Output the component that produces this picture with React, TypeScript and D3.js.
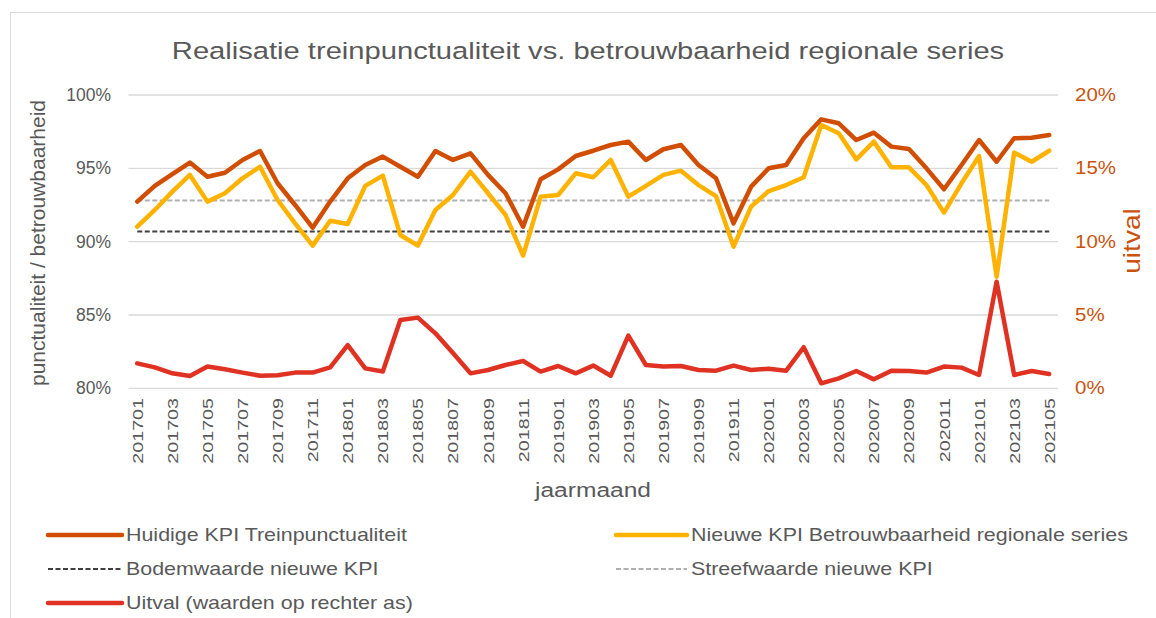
import React from "react";
import * as d3 from "d3";

const months: string[] = [
  "201701","201702","201703","201704","201705","201706","201707","201708","201709","201710","201711","201712",
  "201801","201802","201803","201804","201805","201806","201807","201808","201809","201810","201811","201812",
  "201901","201902","201903","201904","201905","201906","201907","201908","201909","201910","201911","201912",
  "202001","202002","202003","202004","202005","202006","202007","202008","202009","202010","202011","202012",
  "202101","202102","202103","202104","202105",
];

const huidigeKPI: number[] = [
  92.73, 93.80, 94.61, 95.39, 94.43, 94.70, 95.57, 96.18, 93.98, 92.50, 90.95, 92.73,
  94.32, 95.23, 95.80, 95.11, 94.43, 96.18, 95.57, 96.02, 94.55, 93.30, 91.02, 94.25,
  94.93, 95.84, 96.20, 96.59, 96.82, 95.57, 96.30, 96.59, 95.23, 94.32, 91.25, 93.75,
  95.00, 95.23, 97.05, 98.34, 98.07, 96.93, 97.43, 96.48, 96.32, 95.00, 93.57, 95.23,
  96.93, 95.45, 97.05, 97.09, 97.27,
];

const nieuweKPI: number[] = [
  91.02, 92.16, 93.41, 94.55, 92.73, 93.30, 94.32, 95.11, 92.84, 91.25, 89.73, 91.43,
  91.20, 93.80, 94.50, 90.45, 89.73, 92.16, 93.18, 94.77, 93.30, 91.82, 89.05, 93.07,
  93.18, 94.66, 94.39, 95.57, 93.07, 93.80, 94.55, 94.84, 93.86, 93.11, 89.66, 92.39,
  93.45, 93.86, 94.39, 97.95, 97.39, 95.61, 96.82, 95.07, 95.07, 93.86, 91.98, 93.98,
  95.84, 87.61, 96.07, 95.45, 96.20,
];

const uitval: number[] = [
  1.70, 1.43, 1.02, 0.84, 1.48, 1.30, 1.07, 0.86, 0.89, 1.07, 1.07, 1.43,
  2.95, 1.36, 1.14, 4.66, 4.82, 3.75, 2.40, 1.02, 1.25, 1.59, 1.86, 1.14,
  1.52, 1.02, 1.55, 0.86, 3.59, 1.59, 1.48, 1.52, 1.25, 1.20, 1.55, 1.25,
  1.34, 1.20, 2.80, 0.34, 0.68, 1.18, 0.61, 1.20, 1.18, 1.07, 1.48, 1.41,
  0.91, 7.27, 0.91, 1.18, 0.98,
];

const bodemwaarde = 90.7;
const streefwaarde = 92.8;

const leftTicks: number[] = [80, 85, 90, 95, 100];
const rightTicks: number[] = [0, 5, 10, 15, 20];

const title = "Realisatie treinpunctualiteit vs. betrouwbaarheid regionale series";
const xTitle = "jaarmaand";
const yLeftTitle = "punctualiteit / betrouwbaarheid";
const yRightTitle = "uitval";

const C_HUIDIG = "#D14D02";
const C_NIEUW = "#FFB300";
const C_UITVAL = "#E03222";
const C_BODEM = "#404040";
const C_STREEF = "#B0B0B0";
const C_TEXT = "#595959";
const C_RIGHT = "#C9530D";
const C_GRID = "#D9D9D9";
const FONT = "'Liberation Sans', Arial, sans-serif";

export default function App() {
  const W = 1156, H = 618;
  const x0 = 128.5, x1 = 1058;
  const yTop = 95, yBot = 388.3;

  const x = d3.scaleBand<string>().domain(months).range([x0, x1]).paddingInner(0).paddingOuter(0);
  const cx = (m: string) => (x(m) as number) + x.bandwidth() / 2;
  const yL = d3.scaleLinear().domain([80, 100]).range([yBot, yTop]);
  const yR = d3.scaleLinear().domain([0, 20]).range([yBot, yTop]);

  const lineL = d3.line<number>().x((_, i) => cx(months[i])).y((d) => yL(d));
  const lineR = d3.line<number>().x((_, i) => cx(months[i])).y((d) => yR(d));

  const legend = [
    { label: "Huidige KPI Treinpunctualiteit", color: C_HUIDIG, w: 4.5, dash: "", lx: 48, lx2: 122, row: 0 },
    { label: "Nieuwe KPI Betrouwbaarheid regionale series", color: C_NIEUW, w: 4.5, dash: "", lx: 616, lx2: 687, row: 0 },
    { label: "Bodemwaarde nieuwe KPI", color: C_BODEM, w: 2, dash: "5,2.5", lx: 48, lx2: 122, row: 1 },
    { label: "Streefwaarde nieuwe KPI", color: C_STREEF, w: 2, dash: "5,2.5", lx: 616, lx2: 687, row: 1 },
    { label: "Uitval (waarden op rechter as)", color: C_UITVAL, w: 4.5, dash: "", lx: 48, lx2: 122, row: 2 },
  ];
  const rowY = [535, 569, 603];

  return (
    <svg width={W} height={H} style={{ position: "absolute", left: 0, top: 0, background: "#fff" }} fontFamily={FONT}>
      <rect x={0} y={0} width={W} height={H} fill="#fff" />
      <rect x={10.5} y={12.5} width={W} height={H} fill="none" stroke="#D9D9D9" strokeWidth={1} />

      <text transform="translate(588,59) scale(1.19,1)" textAnchor="middle" fontSize={24.5} fill={C_TEXT}>{title}</text>

      {leftTicks.map((t) => (
        <g key={"g" + t}>
          <line x1={x0} x2={x1} y1={yL(t)} y2={yL(t)} stroke={C_GRID} strokeWidth={1.3} />
          <text x={111} y={yL(t) + 6} textAnchor="end" fontSize={17.5} fill={C_TEXT}>{t}%</text>
        </g>
      ))}
      {rightTicks.map((t) => (
        <text key={"r" + t} transform={`translate(1075,${yR(t) + 6}) scale(1.17,1)`} textAnchor="start" fontSize={17.5} fill={C_RIGHT}>{t}%</text>
      ))}

      <line x1={cx(months[0])} x2={cx(months[months.length - 1])} y1={yL(streefwaarde)} y2={yL(streefwaarde)}
        stroke={C_STREEF} strokeWidth={2} strokeDasharray="5,2.5" />
      <line x1={cx(months[0])} x2={cx(months[months.length - 1])} y1={yL(bodemwaarde)} y2={yL(bodemwaarde)}
        stroke={C_BODEM} strokeWidth={2} strokeDasharray="5,2.5" />

      <path d={lineL(nieuweKPI) || ""} fill="none" stroke={C_NIEUW} strokeWidth={4.5} strokeLinejoin="round" strokeLinecap="round" />
      <path d={lineL(huidigeKPI) || ""} fill="none" stroke={C_HUIDIG} strokeWidth={4.5} strokeLinejoin="round" strokeLinecap="round" />
      <path d={lineR(uitval) || ""} fill="none" stroke={C_UITVAL} strokeWidth={4.5} strokeLinejoin="round" strokeLinecap="round" />

      {months.map((m, i) =>
        i % 2 === 0 ? (
          <text key={m} transform={`translate(${cx(m) + 5.5},398) rotate(-90) scale(1.27,1)`} textAnchor="end" fontSize={15.5} fill={C_TEXT}>{m}</text>
        ) : null
      )}

      <text transform="translate(593,497) scale(1.17,1)" textAnchor="middle" fontSize={21} fill={C_TEXT}>{xTitle}</text>
      <text transform={`translate(45,243) rotate(-90)`} textAnchor="middle" fontSize={21} fill={C_TEXT}>{yLeftTitle}</text>
      <text transform={`translate(1140,241) rotate(-90) scale(1.22,1)`} textAnchor="middle" fontSize={23} fill={C_RIGHT}>{yRightTitle}</text>

      {legend.map((l) => (
        <g key={l.label}>
          <line x1={l.lx} x2={l.lx2} y1={rowY[l.row]} y2={rowY[l.row]} stroke={l.color} strokeWidth={l.w}
            strokeDasharray={l.dash || undefined} strokeLinecap={l.dash ? "butt" : "round"} />
          <text transform={`translate(${l.lx2 + 4},${rowY[l.row] + 6}) scale(1.225,1)`} fontSize={17.5} fill={C_TEXT}>{l.label}</text>
        </g>
      ))}
    </svg>
  );
}
